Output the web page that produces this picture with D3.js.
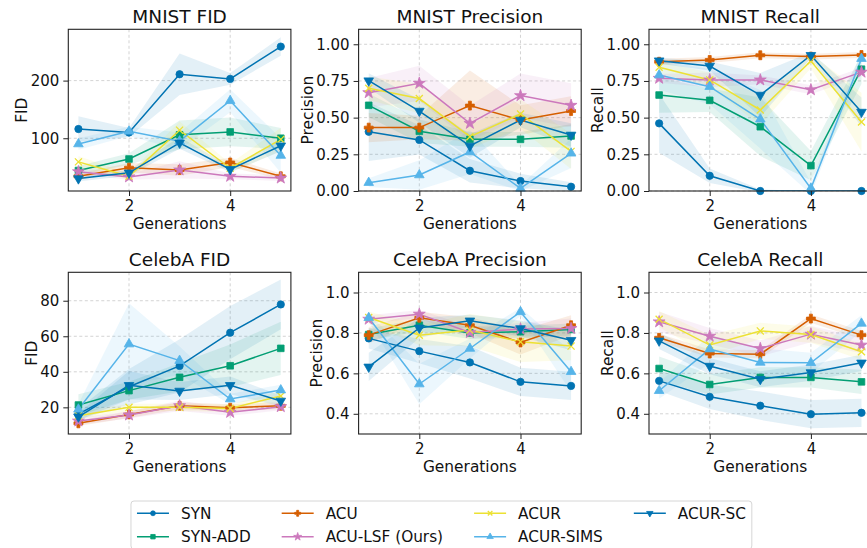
<!DOCTYPE html>
<html>
<head>
<meta charset="utf-8">
<script src="https://cdn.jsdelivr.net/npm/d3@7"></script>
<style>
  body { margin: 0; background: #fff; overflow: hidden; }
  text { font-family: "DejaVu Sans", sans-serif; fill: #111; }
</style>
</head>
<body>
<div id="chart"></div>
<script>
// Data
const generations = [1, 2, 3, 4, 5];
const methods = ["SYN", "SYN-ADD", "ACU", "ACU-LSF (Ours)", "ACUR", "ACUR-SIMS", "ACUR-SC"];
const colors = ["#0173b2", "#029e73", "#d55e00", "#cc78bc", "#ece133", "#56b4e9", "#0173b2"];
const markers = ["circle", "square", "plus", "star", "x", "up", "down"];

// rows follow the order of `methods`
const mnistFidMean = [
  [116, 110, 211, 203, 259],
  [44, 64, 106, 111, 100],
  [34, 49, 45, 58, 34],
  [42, 33, 45, 34, 31],
  [59, 34, 114, 48, 98],
  [90, 112, 95, 165, 70],
  [30, 40, 92, 46, 87]
];
const mnistFidStd = [
  [22, 8, 36, 10, 16],
  [8, 10, 25, 25, 18],
  [5, 8, 10, 8, 5],
  [5, 5, 15, 5, 5],
  [10, 5, 15, 8, 20],
  [10, 8, 15, 20, 30],
  [5, 5, 10, 5, 10]
];

const mnistPrecMean = [
  [0.404, 0.348, 0.138, 0.068, 0.029],
  [0.584, 0.407, 0.352, 0.352, 0.375],
  [0.432, 0.432, 0.582, 0.484, 0.545],
  [0.67, 0.734, 0.461, 0.65, 0.584],
  [0.70, 0.63, 0.37, 0.525, 0.27],
  [0.057, 0.109, 0.266, 0.018, 0.257],
  [0.752, 0.545, 0.307, 0.484, 0.382]
];
const mnistPrecStd = [
  [0.2, 0.1, 0.08, 0.05, 0.03],
  [0.08, 0.08, 0.05, 0.05, 0.08],
  [0.1, 0.08, 0.24, 0.1, 0.1],
  [0.1, 0.12, 0.12, 0.15, 0.15],
  [0.08, 0.1, 0.08, 0.1, 0.12],
  [0.03, 0.1, 0.15, 0.02, 0.1],
  [0.05, 0.08, 0.08, 0.05, 0.08]
];

const mnistRecMean = [
  [0.461, 0.104, 0.0, 0.0, 0.0],
  [0.654, 0.618, 0.438, 0.173, 0.83],
  [0.881, 0.893, 0.925, 0.916, 0.927],
  [0.768, 0.757, 0.757, 0.69, 0.81],
  [0.843, 0.757, 0.552, 0.886, 0.47],
  [0.79, 0.711, 0.489, 0.018, 0.902],
  [0.888, 0.852, 0.654, 0.925, 0.538]
];
const mnistRecStd = [
  [0.2, 0.05, 0.01, 0.0, 0.0],
  [0.12, 0.08, 0.2, 0.1, 0.1],
  [0.02, 0.02, 0.02, 0.02, 0.02],
  [0.03, 0.05, 0.03, 0.03, 0.03],
  [0.04, 0.05, 0.1, 0.05, 0.2],
  [0.1, 0.12, 0.2, 0.04, 0.05],
  [0.02, 0.03, 0.15, 0.02, 0.1]
];

const celebaFidMean = [
  [16.2, 31.6, 43.3, 62, 77.9],
  [21.3, 29.4, 36.9, 43.4, 53.2],
  [11, 16, 20.9, 19.8, 20.9],
  [12.3, 15.7, 20.9, 17.2, 20.4],
  [15.3, 20, 20, 19.4, 26.4],
  [18.9, 55.6, 46.3, 24.7, 29.7],
  [14.7, 32.4, 29.2, 32.4, 23.6]
];
const celebaFidStd = [
  [3, 10, 15, 15, 14],
  [6, 5, 8, 12, 15],
  [1.5, 2, 2, 2, 2],
  [2, 2, 3, 2, 2],
  [2, 2, 2, 2, 3],
  [3, 23, 8, 3, 3],
  [2, 8, 5, 5, 3]
];

const celebaPrecMean = [
  [0.773, 0.71, 0.654, 0.558, 0.538],
  [0.792, 0.838, 0.80, 0.806, 0.817],
  [0.789, 0.875, 0.838, 0.753, 0.838],
  [0.868, 0.893, 0.802, 0.819, 0.822],
  [0.876, 0.789, 0.814, 0.756, 0.735],
  [0.875, 0.547, 0.723, 0.904, 0.608],
  [0.632, 0.825, 0.86, 0.822, 0.764]
];
const celebaPrecStd = [
  [0.05, 0.06, 0.08, 0.07, 0.07],
  [0.03, 0.03, 0.03, 0.03, 0.03],
  [0.04, 0.03, 0.04, 0.06, 0.05],
  [0.02, 0.02, 0.03, 0.03, 0.05],
  [0.03, 0.05, 0.08, 0.1, 0.07],
  [0.02, 0.1, 0.05, 0.02, 0.1],
  [0.07, 0.05, 0.03, 0.04, 0.05]
];

const celebaRecMean = [
  [0.563, 0.484, 0.44, 0.398, 0.405],
  [0.624, 0.545, 0.58, 0.58, 0.558],
  [0.776, 0.698, 0.695, 0.871, 0.789],
  [0.855, 0.784, 0.723, 0.794, 0.74],
  [0.868, 0.74, 0.81, 0.792, 0.707],
  [0.514, 0.72, 0.654, 0.652, 0.847],
  [0.761, 0.636, 0.571, 0.604, 0.652]
];
const celebaRecStd = [
  [0.05, 0.06, 0.07, 0.07, 0.07],
  [0.06, 0.05, 0.05, 0.05, 0.06],
  [0.02, 0.02, 0.02, 0.02, 0.02],
  [0.05, 0.04, 0.04, 0.04, 0.04],
  [0.04, 0.05, 0.04, 0.04, 0.04],
  [0.04, 0.07, 0.07, 0.05, 0.04],
  [0.04, 0.04, 0.04, 0.04, 0.04]
];

const xTicks = [2, 4];
const mnistFidTicks = [100, 200];
const unitTicks = [0, 0.25, 0.5, 0.75, 1.0];
const celebaFidTicks = [20, 40, 60, 80];
const celebaUnitTicks = [0.4, 0.6, 0.8, 1.0];

// Panel definitions
const panels = [
  { title: "MNIST FID", ylabel: "FID", mean: mnistFidMean, std: mnistFidStd, domain: [8.5, 289], ticks: mnistFidTicks, fmt: d3.format("d") },
  { title: "MNIST Precision", ylabel: "Precision", mean: mnistPrecMean, std: mnistPrecStd, domain: [0, 1.102], ticks: unitTicks, fmt: d3.format(".2f") },
  { title: "MNIST Recall", ylabel: "Recall", mean: mnistRecMean, std: mnistRecStd, domain: [0, 1.102], ticks: unitTicks, fmt: d3.format(".2f") },
  { title: "CelebA FID", ylabel: "FID", mean: celebaFidMean, std: celebaFidStd, domain: [5, 96], ticks: celebaFidTicks, fmt: d3.format("d") },
  { title: "CelebA Precision", ylabel: "Precision", mean: celebaPrecMean, std: celebaPrecStd, domain: [0.3, 1.1], ticks: celebaUnitTicks, fmt: d3.format(".1f") },
  { title: "CelebA Recall", ylabel: "Recall", mean: celebaRecMean, std: celebaRecStd, domain: [0.3, 1.1], ticks: celebaUnitTicks, fmt: d3.format(".1f") }
];

// Layout
const totalWidth = 867, totalHeight = 548;
const lefts = [68.3, 358.6, 649];
const tops = [29.3, 272.3];
const W = 222.6, H = 161.7;

const svg = d3.select("#chart")
  .append("svg")
  .attr("width", totalWidth)
  .attr("height", totalHeight);

// Marker drawing helper
function drawMarker(sel, type, color, size) {
  const s = size || 1;
  if (type === "x") {
    sel.append("path")
      .attr("d", d3.symbol().type(d3.symbolX).size(34 * s)())
      .attr("fill", "none")
      .attr("stroke", color)
      .attr("stroke-width", 1.3);
    return;
  }
  const shapes = {
    circle: [d3.symbolCircle, 42],
    square: [d3.symbolSquare, 44],
    plus: [d3.symbolCross, 44],
    star: [d3.symbolStar, 44],
    up: [d3.symbolTriangle, 40],
    down: [d3.symbolTriangle, 40]
  };
  const [shape, area] = shapes[type];
  sel.append("path")
    .attr("d", d3.symbol().type(shape).size(area * s)())
    .attr("transform", type === "down" ? "rotate(180)" : null)
    .attr("fill", color)
    .attr("stroke", color)
    .attr("stroke-width", 0.8);
}

panels.forEach((p, i) => {
  const left = lefts[i % 3];
  const top = tops[Math.floor(i / 3)];
  const g = svg.append("g").attr("transform", `translate(${left},${top})`);

  const x = d3.scaleLinear().domain([0.8, 5.2]).range([0, W]);
  const y = d3.scaleLinear().domain(p.domain).range([H, 0]);

  // clip for plot area
  g.append("clipPath").attr("id", "clip" + i)
    .append("rect").attr("width", W).attr("height", H);

  // Grid lines
  const grid = g.append("g");
  xTicks.forEach(t => {
    grid.append("line")
      .attr("x1", x(t)).attr("x2", x(t))
      .attr("y1", 0).attr("y2", H)
      .attr("stroke", "#c8c8c8").attr("stroke-width", 0.8)
      .attr("stroke-dasharray", "3,2.5");
  });
  p.ticks.forEach(t => {
    grid.append("line")
      .attr("x1", 0).attr("x2", W)
      .attr("y1", y(t)).attr("y2", y(t))
      .attr("stroke", "#c8c8c8").attr("stroke-width", 0.8)
      .attr("stroke-dasharray", "3,2.5");
  });

  const plot = g.append("g").attr("clip-path", `url(#clip${i})`);

  const area = d3.area()
    .x((d, k) => x(generations[k]))
    .y0(d => y(d[0] - d[1]))
    .y1(d => y(d[0] + d[1]));

  const line = d3.line()
    .x((d, k) => x(generations[k]))
    .y(d => y(d));

  methods.forEach((m, j) => {
    const pts = p.mean[j].map((v, k) => [v, p.std[j][k]]);
    plot.append("path")
      .attr("d", area(pts))
      .attr("fill", colors[j])
      .attr("fill-opacity", 0.11)
      .attr("stroke", "none");
  });

  methods.forEach((m, j) => {
    plot.append("path")
      .attr("d", line(p.mean[j]))
      .attr("fill", "none")
      .attr("stroke", colors[j])
      .attr("stroke-width", 1.5);

    p.mean[j].forEach((v, k) => {
      const mg = g.append("g")
        .attr("transform", `translate(${x(generations[k])},${y(v)})`);
      drawMarker(mg, markers[j], colors[j]);
    });
  });

  // Axes
  const xAxis = g.append("g")
    .attr("transform", `translate(0,${H})`)
    .call(d3.axisBottom(x).tickValues(xTicks).tickSize(5).tickPadding(4).tickFormat(d3.format("d")));
  const yAxis = g.append("g")
    .call(d3.axisLeft(y).tickValues(p.ticks).tickSize(5).tickPadding(4).tickFormat(p.fmt));
  [xAxis, yAxis].forEach(a => {
    a.select(".domain").remove();
    a.selectAll(".tick line").attr("stroke", "#222");
    a.selectAll("text").attr("font-size", "15px").attr("fill", "#111");
  });

  // Spines
  g.append("rect")
    .attr("width", W).attr("height", H)
    .attr("fill", "none")
    .attr("stroke", "#222")
    .attr("stroke-width", 1.1);

  // Title
  g.append("text")
    .attr("x", W / 2).attr("y", -6)
    .attr("text-anchor", "middle")
    .attr("font-size", "18.5px")
    .text(p.title);

  // x-axis label
  g.append("text")
    .attr("x", W / 2).attr("y", H + 38.5)
    .attr("text-anchor", "middle")
    .attr("font-size", "15.4px")
    .text("Generations");

  // y-axis label, placed beside the tick labels
  const yw = yAxis.node().getBBox().width;
  g.append("text")
    .attr("transform", `translate(${-yw - 9},${H / 2}) rotate(-90)`)
    .attr("text-anchor", "middle")
    .attr("dy", "0.35em")
    .attr("font-size", "15.4px")
    .text(p.ylabel);
});

// Legend (4 columns, filled column by column)
const legend = svg.append("g");
const ncol = 4;
const rowY = [513.3, 536.7];
const handleLen = 32, textGap = 12, colGap = 31;
const legendBox = legend.append("rect");
const cols = d3.range(ncol).map(c => methods.map((m, j) => j).filter(j => Math.floor(j / 2) === c));

let cx = 0;
const items = legend.append("g");
cols.forEach(idxs => {
  let maxW = 0;
  idxs.forEach((j, r) => {
    const it = items.append("g").attr("transform", `translate(${cx},${rowY[r]})`);
    it.append("line")
      .attr("x1", 0).attr("x2", handleLen)
      .attr("stroke", colors[j]).attr("stroke-width", 1.5);
    const mg = it.append("g").attr("transform", `translate(${handleLen / 2},0)`);
    drawMarker(mg, markers[j], colors[j], 0.45);
    const t = it.append("text")
      .attr("x", handleLen + textGap)
      .attr("dy", "0.35em")
      .attr("font-size", "15.3px")
      .text(methods[j]);
    maxW = Math.max(maxW, t.node().getComputedTextLength());
  });
  cx += handleLen + textGap + maxW + colGap;
});
const legendInner = cx - colGap;
const legendCenter = 441.4;
const startX = legendCenter - legendInner / 2;
items.attr("transform", `translate(${startX},0)`);
legendBox
  .attr("x", startX - 6).attr("y", 501)
  .attr("width", legendInner + 12).attr("height", 48)
  .attr("rx", 3)
  .attr("fill", "#fff")
  .attr("stroke", "#d6d6d6")
  .attr("stroke-width", 1);
</script>
</body>
</html>
